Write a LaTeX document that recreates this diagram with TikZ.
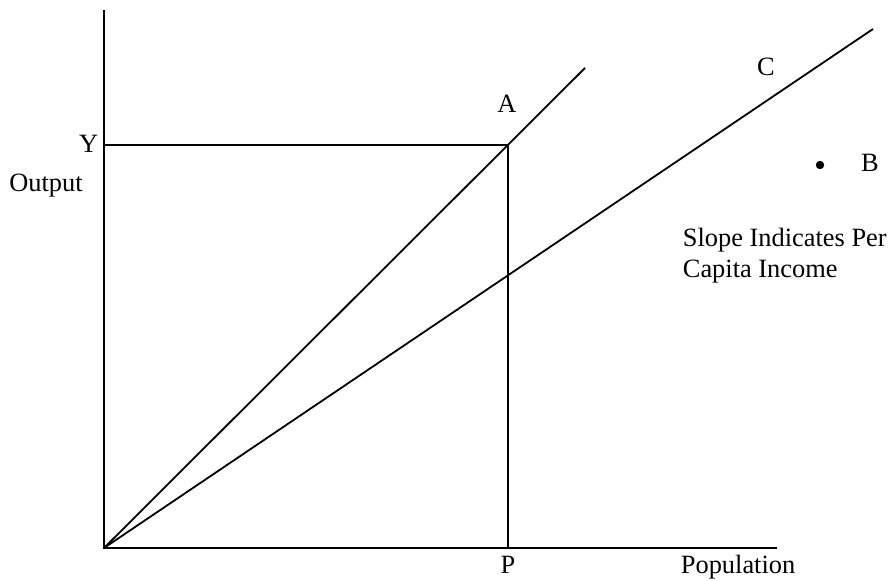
\documentclass[tikz,border=0pt]{standalone}
\usepackage{fontspec}
\setmainfont{Liberation Serif}
\usetikzlibrary{calc}

\begin{document}
\begin{tikzpicture}[x=0.5pt,y=-0.5pt,line width=0.9pt,
  lbl/.style={inner sep=0pt,anchor=base,font=\fontsize{13.2}{15.5}\selectfont}]
\useasboundingbox (0,0) rectangle (888,581);
% axes
\coordinate (O) at (104,548);
\coordinate (ytop) at (104,10);
\coordinate (xend) at (777,548);
\draw (ytop) -- (O) -- (xend);
% the two rays from the origin
\coordinate (A) at (508,145);
\coordinate (aend) at (585,68);
\coordinate (cend) at (873,29);
\draw (O) -- (aend);
\draw (O) -- (cend);
% drop lines from A
\draw (O |- A) -- (A) -- (A |- O);
% labels
\node[lbl,anchor=base east] (ylab) at (99,153) {Y};
\node[lbl] (outlab) at (46,192) {Output};
\node[lbl] (plab) at (508,574) {P};
\node[lbl,anchor=base west] (poplab) at (680,574) {Population};
\node[lbl] (alab) at (507,113) {A};
\node[lbl] (clab) at (766,76) {C};
\node[circle,fill,inner sep=0pt,minimum size=4.2pt] (B) at (820,165) {};
\node[lbl] (blab) at (870,172) {B};
\node[lbl,anchor=base west] (slope1) at (682,247) {Slope Indicates Per};
\node[lbl,anchor=base west] (slope2) at (682,278) {Capita Income};
\end{tikzpicture}
\end{document}
